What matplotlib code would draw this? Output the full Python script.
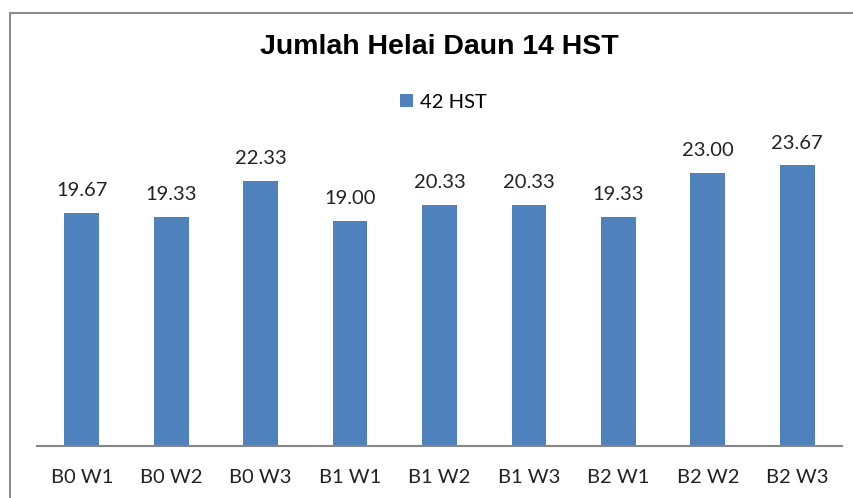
import matplotlib
matplotlib.use('Agg')
import matplotlib.pyplot as plt
from matplotlib.patches import Rectangle

categories = ['B0 W1', 'B0 W2', 'B0 W3', 'B1 W1', 'B1 W2', 'B1 W3', 'B2 W1', 'B2 W2', 'B2 W3']
values_42hst = [19.67, 19.33, 22.33, 19.00, 20.33, 20.33, 19.33, 23.00, 23.67]
series_name = '42 HST'
title = 'Jumlah Helai Daun 14 HST'

W, H = 854, 498
bar_color = '#4F81BD'
axis_color = '#868686'


def main():
    fig = plt.figure(figsize=(W / 100, H / 100), dpi=100)
    fig.patch.set_facecolor('white')

    # chart frame (only top and left edges visible in the crop)
    fig.patches.append(Rectangle((10 / W, -0.1), 1.2, (H - 13) / H + 0.1,
                                 transform=fig.transFigure, fill=False,
                                 edgecolor='#8c8c8c', linewidth=1.5))

    left, right = 37 / W, 842 / W
    bottom, top = (H - 445.7) / H, (H - 149.7) / H
    ax = fig.add_axes([left, bottom, right - left, top - bottom])

    x = range(len(categories))
    bars = ax.bar(x, values_42hst, width=0.39, color=bar_color, label=series_name)
    ax.set_xlim(-0.5, len(categories) - 0.5)
    ax.set_ylim(0, 25)

    for b, v in zip(bars, values_42hst):
        ax.annotate(f'{v:.2f}', (b.get_x() + b.get_width() / 2, v),
                    xytext=(0, 10), textcoords='offset points',
                    ha='center', va='bottom', fontsize=14.5,
                    family='Lato', color='#222222')

    ax.set_xticks(list(x))
    ax.set_xticklabels(categories, fontsize=14.5, family='Lato', color='#222222')
    ax.tick_params(axis='x', length=0, pad=17)
    ax.set_yticks([])
    for s in ['top', 'right', 'left']:
        ax.spines[s].set_visible(False)
    ax.spines['bottom'].set_color(axis_color)
    ax.spines['bottom'].set_linewidth(1.5)

    fig.text(439 / W, 1 - 47 / H, title, ha='center', va='center',
             fontsize=20.5, fontweight='bold', family='Liberation Sans')

    fig.legend(loc='center', bbox_to_anchor=(443 / W, 1 - 102 / H),
               frameon=False, prop={'family': 'Lato', 'size': 14.5},
               handlelength=0.65, handleheight=0.65, handletextpad=0.35)

    fig.savefig('out.png', dpi=100)


if __name__ == '__main__':
    main()
